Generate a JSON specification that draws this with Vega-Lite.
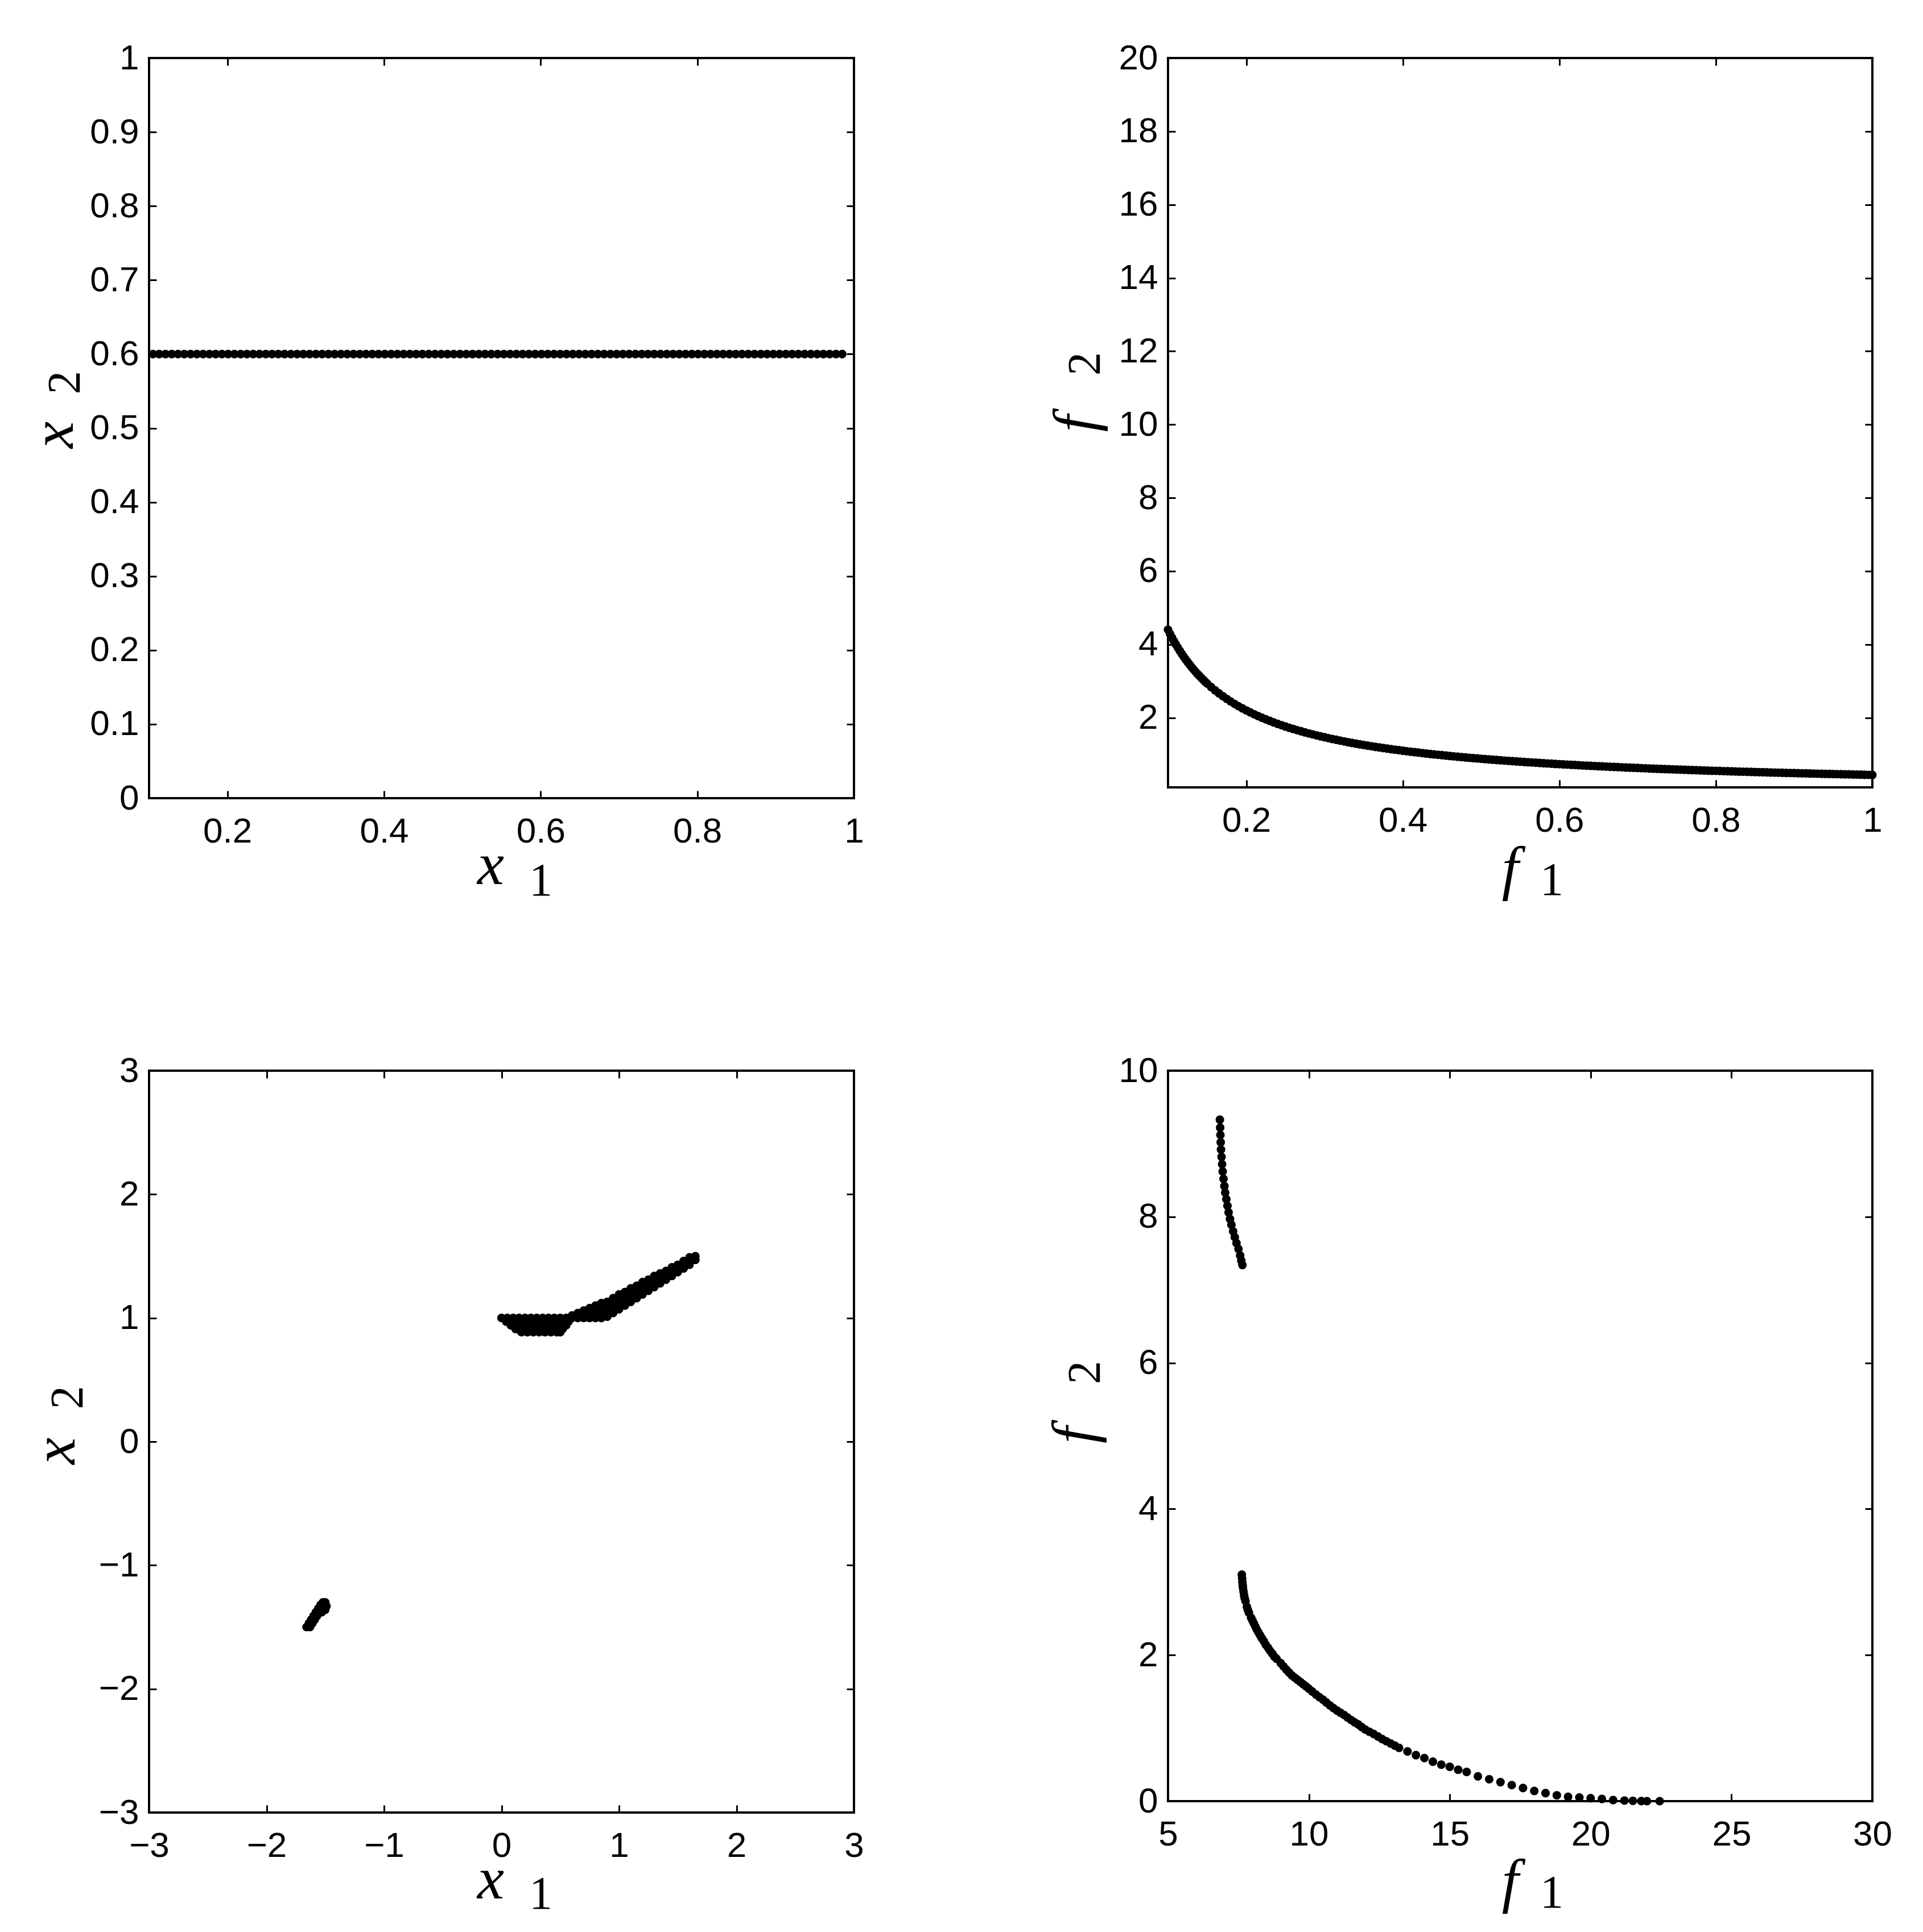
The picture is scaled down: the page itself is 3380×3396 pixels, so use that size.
{
"$schema": "https://vega.github.io/schema/vega-lite/v6.json",
"background": "white",
"padding": {"left": 40, "top": 69, "right": 20, "bottom": 20},
"columns": 2,
"bounds": "flush",
"align": "all",
"spacing": {"row": 476, "column": 552},
"config": {
  "font": "Liberation Sans",
  "view": {"stroke": "#000", "strokeWidth": 4},
  "axis": {"domain": false, "grid": false, "tickColor": "#000", "tickWidth": 3, "tickSize": -13, "labelFont": "Liberation Sans", "labelFontSize": 62, "labelColor": "#000", "labelFlush": false, "labelOverlap": false, "titleFont": "Liberation Serif", "titleFontStyle": "italic", "titleFontWeight": "normal", "titleFontSize": 106, "titleColor": "#000", "titleBaseline": "alphabetic"},
  "axisX": {"labelPadding": 41},
  "axisY": {"labelPadding": 31, "titleAngle": 270}
},
"datasets": {
"tl": [{"x":0.105,"y":0.6},{"x":0.113,"y":0.6},{"x":0.121,"y":0.6},{"x":0.129,"y":0.6},{"x":0.137,"y":0.6},{"x":0.145,"y":0.6},{"x":0.153,"y":0.6},{"x":0.161,"y":0.6},{"x":0.169,"y":0.6},{"x":0.177,"y":0.6},{"x":0.185,"y":0.6},{"x":0.193,"y":0.6},{"x":0.201,"y":0.6},{"x":0.209,"y":0.6},{"x":0.217,"y":0.6},{"x":0.225,"y":0.6},{"x":0.233,"y":0.6},{"x":0.241,"y":0.6},{"x":0.249,"y":0.6},{"x":0.257,"y":0.6},{"x":0.265,"y":0.6},{"x":0.273,"y":0.6},{"x":0.281,"y":0.6},{"x":0.289,"y":0.6},{"x":0.297,"y":0.6},{"x":0.305,"y":0.6},{"x":0.313,"y":0.6},{"x":0.321,"y":0.6},{"x":0.329,"y":0.6},{"x":0.337,"y":0.6},{"x":0.345,"y":0.6},{"x":0.353,"y":0.6},{"x":0.361,"y":0.6},{"x":0.369,"y":0.6},{"x":0.377,"y":0.6},{"x":0.385,"y":0.6},{"x":0.393,"y":0.6},{"x":0.401,"y":0.6},{"x":0.409,"y":0.6},{"x":0.417,"y":0.6},{"x":0.425,"y":0.6},{"x":0.433,"y":0.6},{"x":0.441,"y":0.6},{"x":0.449,"y":0.6},{"x":0.457,"y":0.6},{"x":0.465,"y":0.6},{"x":0.473,"y":0.6},{"x":0.481,"y":0.6},{"x":0.489,"y":0.6},{"x":0.497,"y":0.6},{"x":0.505,"y":0.6},{"x":0.513,"y":0.6},{"x":0.521,"y":0.6},{"x":0.529,"y":0.6},{"x":0.537,"y":0.6},{"x":0.545,"y":0.6},{"x":0.553,"y":0.6},{"x":0.561,"y":0.6},{"x":0.569,"y":0.6},{"x":0.577,"y":0.6},{"x":0.585,"y":0.6},{"x":0.593,"y":0.6},{"x":0.601,"y":0.6},{"x":0.609,"y":0.6},{"x":0.617,"y":0.6},{"x":0.625,"y":0.6},{"x":0.633,"y":0.6},{"x":0.641,"y":0.6},{"x":0.649,"y":0.6},{"x":0.657,"y":0.6},{"x":0.665,"y":0.6},{"x":0.673,"y":0.6},{"x":0.681,"y":0.6},{"x":0.689,"y":0.6},{"x":0.697,"y":0.6},{"x":0.705,"y":0.6},{"x":0.713,"y":0.6},{"x":0.721,"y":0.6},{"x":0.729,"y":0.6},{"x":0.737,"y":0.6},{"x":0.745,"y":0.6},{"x":0.753,"y":0.6},{"x":0.761,"y":0.6},{"x":0.769,"y":0.6},{"x":0.777,"y":0.6},{"x":0.785,"y":0.6},{"x":0.793,"y":0.6},{"x":0.801,"y":0.6},{"x":0.809,"y":0.6},{"x":0.817,"y":0.6},{"x":0.825,"y":0.6},{"x":0.833,"y":0.6},{"x":0.841,"y":0.6},{"x":0.849,"y":0.6},{"x":0.857,"y":0.6},{"x":0.865,"y":0.6},{"x":0.873,"y":0.6},{"x":0.881,"y":0.6},{"x":0.889,"y":0.6},{"x":0.897,"y":0.6},{"x":0.905,"y":0.6},{"x":0.913,"y":0.6},{"x":0.921,"y":0.6},{"x":0.929,"y":0.6},{"x":0.937,"y":0.6},{"x":0.945,"y":0.6},{"x":0.953,"y":0.6},{"x":0.961,"y":0.6},{"x":0.969,"y":0.6},{"x":0.977,"y":0.6},{"x":0.985,"y":0.6}],
"tr": [{"x":0.1,"y":4.4},{"x":0.1025,"y":4.293},{"x":0.105,"y":4.19},{"x":0.1075,"y":4.093},{"x":0.11,"y":4.0},{"x":0.1125,"y":3.911},{"x":0.115,"y":3.826},{"x":0.1175,"y":3.745},{"x":0.12,"y":3.667},{"x":0.1225,"y":3.592},{"x":0.125,"y":3.52},{"x":0.1275,"y":3.451},{"x":0.13,"y":3.385},{"x":0.1325,"y":3.321},{"x":0.135,"y":3.259},{"x":0.1375,"y":3.2},{"x":0.14,"y":3.143},{"x":0.1425,"y":3.088},{"x":0.145,"y":3.034},{"x":0.1475,"y":2.983},{"x":0.15,"y":2.933},{"x":0.155,"y":2.839},{"x":0.16,"y":2.75},{"x":0.165,"y":2.667},{"x":0.17,"y":2.588},{"x":0.175,"y":2.514},{"x":0.18,"y":2.444},{"x":0.185,"y":2.378},{"x":0.19,"y":2.316},{"x":0.195,"y":2.256},{"x":0.2,"y":2.2},{"x":0.205,"y":2.146},{"x":0.21,"y":2.095},{"x":0.215,"y":2.047},{"x":0.22,"y":2.0},{"x":0.225,"y":1.956},{"x":0.23,"y":1.913},{"x":0.235,"y":1.872},{"x":0.24,"y":1.833},{"x":0.245,"y":1.796},{"x":0.25,"y":1.76},{"x":0.255,"y":1.725},{"x":0.26,"y":1.692},{"x":0.265,"y":1.66},{"x":0.27,"y":1.63},{"x":0.275,"y":1.6},{"x":0.28,"y":1.571},{"x":0.285,"y":1.544},{"x":0.29,"y":1.517},{"x":0.295,"y":1.492},{"x":0.3,"y":1.467},{"x":0.305,"y":1.443},{"x":0.31,"y":1.419},{"x":0.315,"y":1.397},{"x":0.32,"y":1.375},{"x":0.325,"y":1.354},{"x":0.33,"y":1.333},{"x":0.335,"y":1.313},{"x":0.34,"y":1.294},{"x":0.345,"y":1.275},{"x":0.35,"y":1.257},{"x":0.355,"y":1.239},{"x":0.36,"y":1.222},{"x":0.365,"y":1.205},{"x":0.37,"y":1.189},{"x":0.375,"y":1.173},{"x":0.38,"y":1.158},{"x":0.385,"y":1.143},{"x":0.39,"y":1.128},{"x":0.395,"y":1.114},{"x":0.4,"y":1.1},{"x":0.405,"y":1.086},{"x":0.41,"y":1.073},{"x":0.415,"y":1.06},{"x":0.42,"y":1.048},{"x":0.425,"y":1.035},{"x":0.43,"y":1.023},{"x":0.435,"y":1.011},{"x":0.44,"y":1.0},{"x":0.445,"y":0.989},{"x":0.45,"y":0.978},{"x":0.455,"y":0.967},{"x":0.46,"y":0.957},{"x":0.465,"y":0.946},{"x":0.47,"y":0.936},{"x":0.475,"y":0.926},{"x":0.48,"y":0.917},{"x":0.485,"y":0.907},{"x":0.49,"y":0.898},{"x":0.495,"y":0.889},{"x":0.5,"y":0.88},{"x":0.505,"y":0.871},{"x":0.51,"y":0.863},{"x":0.515,"y":0.854},{"x":0.52,"y":0.846},{"x":0.525,"y":0.838},{"x":0.53,"y":0.83},{"x":0.535,"y":0.822},{"x":0.54,"y":0.815},{"x":0.545,"y":0.807},{"x":0.55,"y":0.8},{"x":0.555,"y":0.793},{"x":0.56,"y":0.786},{"x":0.565,"y":0.779},{"x":0.57,"y":0.772},{"x":0.575,"y":0.765},{"x":0.58,"y":0.759},{"x":0.585,"y":0.752},{"x":0.59,"y":0.746},{"x":0.595,"y":0.739},{"x":0.6,"y":0.733},{"x":0.605,"y":0.727},{"x":0.61,"y":0.721},{"x":0.615,"y":0.715},{"x":0.62,"y":0.71},{"x":0.625,"y":0.704},{"x":0.63,"y":0.698},{"x":0.635,"y":0.693},{"x":0.64,"y":0.688},{"x":0.645,"y":0.682},{"x":0.65,"y":0.677},{"x":0.655,"y":0.672},{"x":0.66,"y":0.667},{"x":0.665,"y":0.662},{"x":0.67,"y":0.657},{"x":0.675,"y":0.652},{"x":0.68,"y":0.647},{"x":0.685,"y":0.642},{"x":0.69,"y":0.638},{"x":0.695,"y":0.633},{"x":0.7,"y":0.629},{"x":0.705,"y":0.624},{"x":0.71,"y":0.62},{"x":0.715,"y":0.615},{"x":0.72,"y":0.611},{"x":0.725,"y":0.607},{"x":0.73,"y":0.603},{"x":0.735,"y":0.599},{"x":0.74,"y":0.595},{"x":0.745,"y":0.591},{"x":0.75,"y":0.587},{"x":0.755,"y":0.583},{"x":0.76,"y":0.579},{"x":0.765,"y":0.575},{"x":0.77,"y":0.571},{"x":0.775,"y":0.568},{"x":0.78,"y":0.564},{"x":0.785,"y":0.561},{"x":0.79,"y":0.557},{"x":0.795,"y":0.553},{"x":0.8,"y":0.55},{"x":0.805,"y":0.547},{"x":0.81,"y":0.543},{"x":0.815,"y":0.54},{"x":0.82,"y":0.537},{"x":0.825,"y":0.533},{"x":0.83,"y":0.53},{"x":0.835,"y":0.527},{"x":0.84,"y":0.524},{"x":0.845,"y":0.521},{"x":0.85,"y":0.518},{"x":0.855,"y":0.515},{"x":0.86,"y":0.512},{"x":0.865,"y":0.509},{"x":0.87,"y":0.506},{"x":0.875,"y":0.503},{"x":0.88,"y":0.5},{"x":0.885,"y":0.497},{"x":0.89,"y":0.494},{"x":0.895,"y":0.492},{"x":0.9,"y":0.489},{"x":0.905,"y":0.486},{"x":0.91,"y":0.484},{"x":0.915,"y":0.481},{"x":0.92,"y":0.478},{"x":0.925,"y":0.476},{"x":0.93,"y":0.473},{"x":0.935,"y":0.471},{"x":0.94,"y":0.468},{"x":0.945,"y":0.466},{"x":0.95,"y":0.463},{"x":0.955,"y":0.461},{"x":0.96,"y":0.458},{"x":0.965,"y":0.456},{"x":0.97,"y":0.454},{"x":0.975,"y":0.451},{"x":0.98,"y":0.449},{"x":0.985,"y":0.447},{"x":0.99,"y":0.444},{"x":0.995,"y":0.442},{"x":1.0,"y":0.44}],
"bl": [{"x":-1.66,"y":-1.5},{"x":-1.63,"y":-1.5},{"x":-1.64,"y":-1.47},{"x":-1.61,"y":-1.47},{"x":-1.62,"y":-1.44},{"x":-1.59,"y":-1.44},{"x":-1.6,"y":-1.41},{"x":-1.57,"y":-1.41},{"x":-1.58,"y":-1.38},{"x":-1.55,"y":-1.38},{"x":-1.56,"y":-1.35},{"x":-1.53,"y":-1.35},{"x":-1.54,"y":-1.32},{"x":-1.51,"y":-1.32},{"x":-1.52,"y":-1.3},{"x":-1.5,"y":-1.3},{"x":-1.49,"y":-1.33},{"x":-1.5,"y":-1.36},{"x":-1.53,"y":-1.38},
{"x":0.0,"y":1.0},{"x":0.05,"y":1.0},{"x":0.1,"y":1.0},{"x":0.15,"y":1.0},{"x":0.2,"y":1.0},{"x":0.25,"y":1.0},{"x":0.3,"y":1.0},{"x":0.35,"y":1.0},{"x":0.4,"y":1.0},{"x":0.45,"y":1.0},{"x":0.5,"y":1.0},{"x":0.55,"y":1.0},{"x":0.6,"y":1.0},
{"x":0.04,"y":0.97},{"x":0.09,"y":0.97},{"x":0.14,"y":0.97},{"x":0.19,"y":0.97},{"x":0.24,"y":0.97},{"x":0.29,"y":0.97},{"x":0.34,"y":0.97},{"x":0.39,"y":0.97},{"x":0.44,"y":0.97},{"x":0.49,"y":0.97},{"x":0.54,"y":0.97},{"x":0.57,"y":0.97},
{"x":0.08,"y":0.94},{"x":0.13,"y":0.94},{"x":0.18,"y":0.94},{"x":0.23,"y":0.94},{"x":0.28,"y":0.94},{"x":0.33,"y":0.94},{"x":0.38,"y":0.94},{"x":0.43,"y":0.94},{"x":0.48,"y":0.94},{"x":0.53,"y":0.94},{"x":0.55,"y":0.94},
{"x":0.12,"y":0.91},{"x":0.17,"y":0.91},{"x":0.22,"y":0.91},{"x":0.27,"y":0.91},{"x":0.32,"y":0.91},{"x":0.37,"y":0.91},{"x":0.42,"y":0.91},{"x":0.47,"y":0.91},{"x":0.52,"y":0.91},
{"x":0.17,"y":0.885},{"x":0.22,"y":0.885},{"x":0.27,"y":0.885},{"x":0.32,"y":0.885},{"x":0.37,"y":0.885},{"x":0.42,"y":0.885},{"x":0.47,"y":0.885},{"x":0.5,"y":0.885},
{"x":0.6,"y":1.02},{"x":0.65,"y":1.0},{"x":0.65,"y":1.04},{"x":0.7,"y":1.0},{"x":0.7,"y":1.03},{"x":0.7,"y":1.06},{"x":0.75,"y":1.0},{"x":0.75,"y":1.04},{"x":0.75,"y":1.08},
{"x":0.8,"y":1.0},{"x":0.8,"y":1.04},{"x":0.8,"y":1.08},{"x":0.8,"y":1.1},{"x":0.85,"y":1.0},{"x":0.85,"y":1.04},{"x":0.85,"y":1.08},{"x":0.85,"y":1.12},
{"x":0.9,"y":1.01},{"x":0.9,"y":1.05},{"x":0.9,"y":1.09},{"x":0.9,"y":1.13},{"x":0.95,"y":1.04},{"x":0.95,"y":1.08},{"x":0.95,"y":1.12},{"x":0.95,"y":1.16},
{"x":1.0,"y":1.07},{"x":1.0,"y":1.11},{"x":1.0,"y":1.15},{"x":1.0,"y":1.19},{"x":1.05,"y":1.1},{"x":1.05,"y":1.14},{"x":1.05,"y":1.18},{"x":1.05,"y":1.21},
{"x":1.1,"y":1.13},{"x":1.1,"y":1.17},{"x":1.1,"y":1.21},{"x":1.1,"y":1.24},{"x":1.15,"y":1.16},{"x":1.15,"y":1.2},{"x":1.15,"y":1.24},{"x":1.15,"y":1.26},
{"x":1.2,"y":1.19},{"x":1.2,"y":1.23},{"x":1.2,"y":1.26},{"x":1.2,"y":1.29},{"x":1.25,"y":1.22},{"x":1.25,"y":1.26},{"x":1.25,"y":1.29},{"x":1.25,"y":1.31},
{"x":1.3,"y":1.25},{"x":1.3,"y":1.29},{"x":1.3,"y":1.32},{"x":1.3,"y":1.34},{"x":1.35,"y":1.28},{"x":1.35,"y":1.32},{"x":1.35,"y":1.36},
{"x":1.4,"y":1.31},{"x":1.4,"y":1.35},{"x":1.4,"y":1.38},{"x":1.45,"y":1.34},{"x":1.45,"y":1.38},{"x":1.45,"y":1.41},
{"x":1.5,"y":1.37},{"x":1.5,"y":1.41},{"x":1.5,"y":1.43},{"x":1.55,"y":1.4},{"x":1.55,"y":1.44},{"x":1.55,"y":1.46},
{"x":1.6,"y":1.43},{"x":1.6,"y":1.47},{"x":1.6,"y":1.49},{"x":1.65,"y":1.47},{"x":1.65,"y":1.5}],
"br": [{"x":6.84,"y":9.33},{"x":6.85,"y":9.22},{"x":6.86,"y":9.12},{"x":6.87,"y":9.02},{"x":6.88,"y":8.92},{"x":6.9,"y":8.82},{"x":6.92,"y":8.72},{"x":6.94,"y":8.62},{"x":6.97,"y":8.52},{"x":7.0,"y":8.42},{"x":7.03,"y":8.33},{"x":7.07,"y":8.24},{"x":7.11,"y":8.15},{"x":7.15,"y":8.06},{"x":7.2,"y":7.97},{"x":7.25,"y":7.89},{"x":7.31,"y":7.8},{"x":7.37,"y":7.72},{"x":7.43,"y":7.64},{"x":7.5,"y":7.56},{"x":7.56,"y":7.47},{"x":7.6,"y":7.4},{"x":7.64,"y":7.34},
{"x":7.62,"y":3.1},{"x":7.63,"y":3.05},{"x":7.64,"y":3.0},{"x":7.65,"y":2.96},{"x":7.66,"y":2.92},{"x":7.68,"y":2.87},{"x":7.7,"y":2.82},{"x":7.72,"y":2.78},{"x":7.75,"y":2.74},{"x":7.8,"y":2.66},{"x":7.83,"y":2.62},{"x":7.87,"y":2.58},{"x":7.95,"y":2.51},{"x":8.0,"y":2.47},{"x":8.05,"y":2.43},{"x":8.1,"y":2.39},{"x":8.15,"y":2.35},{"x":8.21,"y":2.31},{"x":8.27,"y":2.27},{"x":8.33,"y":2.23},{"x":8.4,"y":2.19},{"x":8.47,"y":2.14},{"x":8.55,"y":2.1},{"x":8.62,"y":2.06},{"x":8.7,"y":2.02},{"x":8.77,"y":1.98},{"x":8.85,"y":1.95},{"x":9.0,"y":1.89},{"x":9.1,"y":1.845},{"x":9.2,"y":1.8},{"x":9.3,"y":1.76},{"x":9.4,"y":1.72},{"x":9.5,"y":1.69},{"x":9.6,"y":1.66},{"x":9.7,"y":1.63},{"x":9.8,"y":1.6},{"x":9.9,"y":1.57},{"x":10.0,"y":1.54},{"x":10.12,"y":1.5},{"x":10.25,"y":1.46},{"x":10.37,"y":1.425},{"x":10.5,"y":1.39},{"x":10.62,"y":1.35},{"x":10.75,"y":1.31},{"x":10.87,"y":1.275},{"x":11.0,"y":1.24},{"x":11.12,"y":1.21},{"x":11.25,"y":1.18},{"x":11.37,"y":1.145},{"x":11.5,"y":1.11},{"x":11.62,"y":1.08},{"x":11.75,"y":1.05},{"x":11.87,"y":1.015},{"x":12.0,"y":0.98},{"x":12.15,"y":0.95},{"x":12.3,"y":0.92},{"x":12.45,"y":0.885},{"x":12.6,"y":0.85},{"x":12.75,"y":0.82},{"x":12.9,"y":0.79},{"x":13.05,"y":0.76},{"x":13.2,"y":0.73},{"x":13.5,"y":0.68},{"x":13.8,"y":0.63},{"x":14.1,"y":0.59},{"x":14.4,"y":0.54},{"x":14.7,"y":0.5},{"x":15.0,"y":0.47},{"x":15.3,"y":0.43},{"x":15.6,"y":0.4},{"x":16.0,"y":0.34},{"x":16.4,"y":0.3},{"x":16.8,"y":0.26},{"x":17.2,"y":0.22},{"x":17.6,"y":0.18},{"x":18.0,"y":0.14},{"x":18.4,"y":0.11},{"x":18.8,"y":0.08},{"x":19.2,"y":0.06},{"x":19.6,"y":0.05},{"x":20.0,"y":0.04},{"x":20.4,"y":0.03},{"x":20.8,"y":0.015},{"x":21.2,"y":0.008},{"x":21.5,"y":0.004},{"x":21.8,"y":0.001},{"x":22.0,"y":0.0},{"x":22.45,"y":0.0}]
},
"concat": [
{
  "width": 1239, "height": 1301,
  "data": {"name": "tl"},
  "resolve": {"axis": {"x": "independent", "y": "independent"}},
  "layer": [
    {"mark": {"type": "point", "filled": true, "color": "#000", "opacity": 1, "size": 230, "strokeWidth": 0},
     "encoding": {
       "x": {"field": "x", "type": "quantitative", "scale": {"domain": [0.1, 1], "nice": false, "zero": false},
             "axis": {"orient": "bottom", "values": [0.2, 0.4, 0.6, 0.8, 1], "format": "~f", "title": "x", "titleX": 600, "titleY": 150}},
       "y": {"field": "y", "type": "quantitative", "scale": {"domain": [0, 1], "nice": false, "zero": false},
             "axis": {"orient": "left", "values": [0, 0.1, 0.2, 0.3, 0.4, 0.5, 0.6, 0.7, 0.8, 0.9, 1], "format": "~f", "title": "x", "titleX": -135, "titleY": 662}}
     }},
    {"mark": {"type": "point", "opacity": 0},
     "encoding": {
       "x": {"field": "x", "type": "quantitative", "axis": {"orient": "top", "values": [0.2, 0.4, 0.6, 0.8, 1], "labels": false, "title": null}},
       "y": {"field": "y", "type": "quantitative", "axis": {"orient": "right", "values": [0, 0.1, 0.2, 0.3, 0.4, 0.5, 0.6, 0.7, 0.8, 0.9, 1], "labels": false, "title": null}}
     }},
    {"mark": {"type": "point", "opacity": 0},
     "encoding": {
       "x": {"field": "x", "type": "quantitative", "axis": {"orient": "bottom", "ticks": false, "labels": false, "title": "1", "titleFontStyle": "normal", "titleFontSize": 82, "titleX": 688, "titleY": 170}},
       "y": {"field": "y", "type": "quantitative", "axis": {"orient": "left", "ticks": false, "labels": false, "title": "2", "titleFontStyle": "normal", "titleFontSize": 82, "titleX": -123, "titleY": 570}}
     }}
  ]
},
{
  "width": 1238, "height": 1282,
  "data": {"name": "tr"},
  "resolve": {"axis": {"x": "independent", "y": "independent"}},
  "layer": [
    {"mark": {"type": "point", "filled": true, "color": "#000", "opacity": 1, "size": 230, "strokeWidth": 0},
     "encoding": {
       "x": {"field": "x", "type": "quantitative", "scale": {"domain": [0.1, 1], "nice": false, "zero": false},
             "axis": {"orient": "bottom", "values": [0.2, 0.4, 0.6, 0.8, 1], "format": "~f", "title": "f", "titleX": 601, "titleY": 176}},
       "y": {"field": "y", "type": "quantitative", "scale": {"domain": [0.1, 20], "nice": false, "zero": false},
             "axis": {"orient": "left", "values": [2, 4, 6, 8, 10, 12, 14, 16, 18, 20], "format": "~f", "title": "f", "titleX": -130, "titleY": 642}}
     }},
    {"mark": {"type": "point", "opacity": 0},
     "encoding": {
       "x": {"field": "x", "type": "quantitative", "axis": {"orient": "top", "values": [0.2, 0.4, 0.6, 0.8, 1], "labels": false, "title": null}},
       "y": {"field": "y", "type": "quantitative", "axis": {"orient": "right", "values": [2, 4, 6, 8, 10, 12, 14, 16, 18, 20], "labels": false, "title": null}}
     }},
    {"mark": {"type": "point", "opacity": 0},
     "encoding": {
       "x": {"field": "x", "type": "quantitative", "axis": {"orient": "bottom", "ticks": false, "labels": false, "title": "1", "titleFontStyle": "normal", "titleFontSize": 82, "titleX": 674, "titleY": 188}},
       "y": {"field": "y", "type": "quantitative", "axis": {"orient": "left", "ticks": false, "labels": false, "title": "2", "titleFontStyle": "normal", "titleFontSize": 82, "titleX": -121, "titleY": 537}}
     }}
  ]
},
{
  "width": 1239, "height": 1304,
  "data": {"name": "bl"},
  "resolve": {"axis": {"x": "independent", "y": "independent"}},
  "layer": [
    {"mark": {"type": "point", "filled": true, "color": "#000", "opacity": 1, "size": 230, "strokeWidth": 0},
     "encoding": {
       "x": {"field": "x", "type": "quantitative", "scale": {"domain": [-3, 3], "nice": false, "zero": false},
             "axis": {"orient": "bottom", "values": [-3, -2, -1, 0, 1, 2, 3], "format": "~f", "title": "x", "titleX": 600, "titleY": 150}},
       "y": {"field": "y", "type": "quantitative", "scale": {"domain": [-3, 3], "nice": false, "zero": false},
             "axis": {"orient": "left", "values": [-3, -2, -1, 0, 1, 2, 3], "format": "~f", "title": "x", "titleX": -132, "titleY": 668}}
     }},
    {"mark": {"type": "point", "opacity": 0},
     "encoding": {
       "x": {"field": "x", "type": "quantitative", "axis": {"orient": "top", "values": [-3, -2, -1, 0, 1, 2, 3], "labels": false, "title": null}},
       "y": {"field": "y", "type": "quantitative", "axis": {"orient": "right", "values": [-3, -2, -1, 0, 1, 2, 3], "labels": false, "title": null}}
     }},
    {"mark": {"type": "point", "opacity": 0},
     "encoding": {
       "x": {"field": "x", "type": "quantitative", "axis": {"orient": "bottom", "ticks": false, "labels": false, "title": "1", "titleFontStyle": "normal", "titleFontSize": 82, "titleX": 688, "titleY": 168}},
       "y": {"field": "y", "type": "quantitative", "axis": {"orient": "left", "ticks": false, "labels": false, "title": "2", "titleFontStyle": "normal", "titleFontSize": 82, "titleX": -118, "titleY": 574}}
     }}
  ]
},
{
  "width": 1238, "height": 1284,
  "data": {"name": "br"},
  "resolve": {"axis": {"x": "independent", "y": "independent"}},
  "layer": [
    {"mark": {"type": "point", "filled": true, "color": "#000", "opacity": 1, "size": 230, "strokeWidth": 0},
     "encoding": {
       "x": {"field": "x", "type": "quantitative", "scale": {"domain": [5, 30], "nice": false, "zero": false},
             "axis": {"orient": "bottom", "values": [5, 10, 15, 20, 25, 30], "format": "~f", "title": "f", "titleX": 601, "titleY": 174}},
       "y": {"field": "y", "type": "quantitative", "scale": {"domain": [0, 10], "nice": false, "zero": false},
             "axis": {"orient": "left", "values": [0, 2, 4, 6, 8, 10], "format": "~f", "title": "f", "titleX": -132, "titleY": 640}}
     }},
    {"mark": {"type": "point", "opacity": 0},
     "encoding": {
       "x": {"field": "x", "type": "quantitative", "axis": {"orient": "top", "values": [5, 10, 15, 20, 25, 30], "labels": false, "title": null}},
       "y": {"field": "y", "type": "quantitative", "axis": {"orient": "right", "values": [0, 2, 4, 6, 8, 10], "labels": false, "title": null}}
     }},
    {"mark": {"type": "point", "opacity": 0},
     "encoding": {
       "x": {"field": "x", "type": "quantitative", "axis": {"orient": "bottom", "ticks": false, "labels": false, "title": "1", "titleFontStyle": "normal", "titleFontSize": 82, "titleX": 674, "titleY": 186}},
       "y": {"field": "y", "type": "quantitative", "axis": {"orient": "left", "ticks": false, "labels": false, "title": "2", "titleFontStyle": "normal", "titleFontSize": 82, "titleX": -121, "titleY": 530}}
     }}
  ]
}
]
}
